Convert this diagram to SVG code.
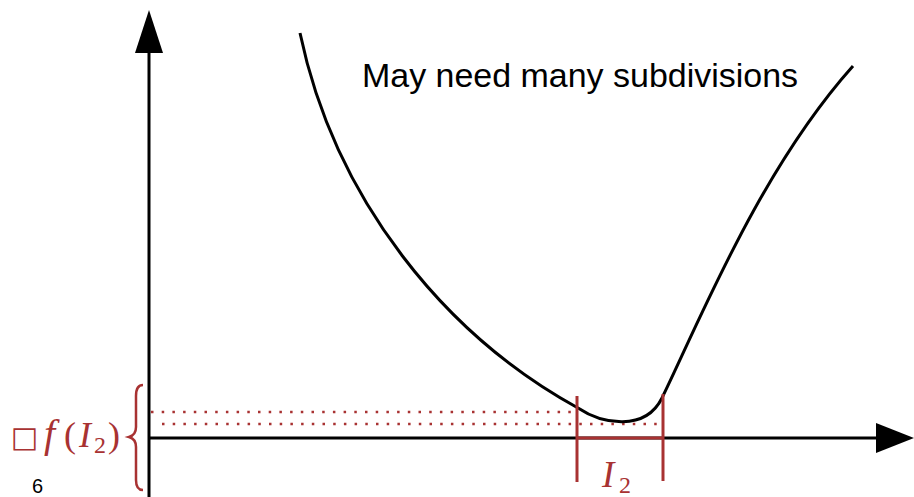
<svg xmlns="http://www.w3.org/2000/svg" width="914" height="497" viewBox="0 0 914 497">
<style>
.ax{stroke:#000;stroke-width:3;fill:none}
.red{stroke:#a83232;fill:none}
.dot{stroke:#a83232;stroke-width:2.5;stroke-dasharray:2.5 8.2;fill:none}
.math{font-family:"Liberation Serif",serif;fill:#a83232}
</style>
<rect width="914" height="497" fill="#fff"/>
<g id="axes">
<line class="ax" x1="149" y1="497" x2="149" y2="50"/>
<polygon points="149,10 135,53 163,53" fill="#000"/>
<line class="ax" x1="149" y1="438" x2="878" y2="438"/>
<polygon points="914,438 876,423 876,453" fill="#000"/>
</g>
<g id="dotted">
<line class="dot" x1="151" y1="412" x2="576" y2="412"/>
<line class="dot" x1="162" y1="424" x2="660" y2="424"/>
</g>
<g id="curve">
<path class="ax" d="M 300 33 C 335 200, 445 335, 578 408 C 602 424, 645 432, 662 398 C 700 320, 760 170, 853 66"/>
</g>
<g id="interval">
<line class="red" stroke-width="3" x1="577" y1="396" x2="577" y2="482"/>
<line class="red" stroke-width="3" x1="663" y1="394" x2="663" y2="481"/>
<line class="red" stroke-width="3" x1="577" y1="438" x2="663" y2="438"/>
<text class="math" x="602" y="487" font-size="37" font-style="italic">I</text>
<text class="math" x="619" y="493" font-size="24">2</text>
</g>
<g id="brace">
<path class="red" stroke-width="2.5" d="M 143 385 Q 136 385 136 396 L 136 427 Q 136 435 129 437 Q 136 439 136 447 L 136 480 Q 136 490 143 490"/>
<text class="math" y="447" font-size="36"><tspan x="11" font-family="DejaVu Sans, sans-serif" font-size="29">□</tspan><tspan x="44" font-style="italic" font-size="40">f</tspan><tspan x="64">(</tspan><tspan x="79" font-style="italic">I</tspan><tspan x="94" y="453" font-size="24">2</tspan><tspan x="108" y="447">)</tspan></text>
</g>
<g id="label">
<text x="362" y="87" font-family="Liberation Sans, sans-serif" font-size="33" textLength="436" lengthAdjust="spacingAndGlyphs" fill="#000">May need many subdivisions</text>
</g>
<text x="32" y="493" font-family="Liberation Sans, sans-serif" font-size="20" fill="#000">6</text>
</svg>
